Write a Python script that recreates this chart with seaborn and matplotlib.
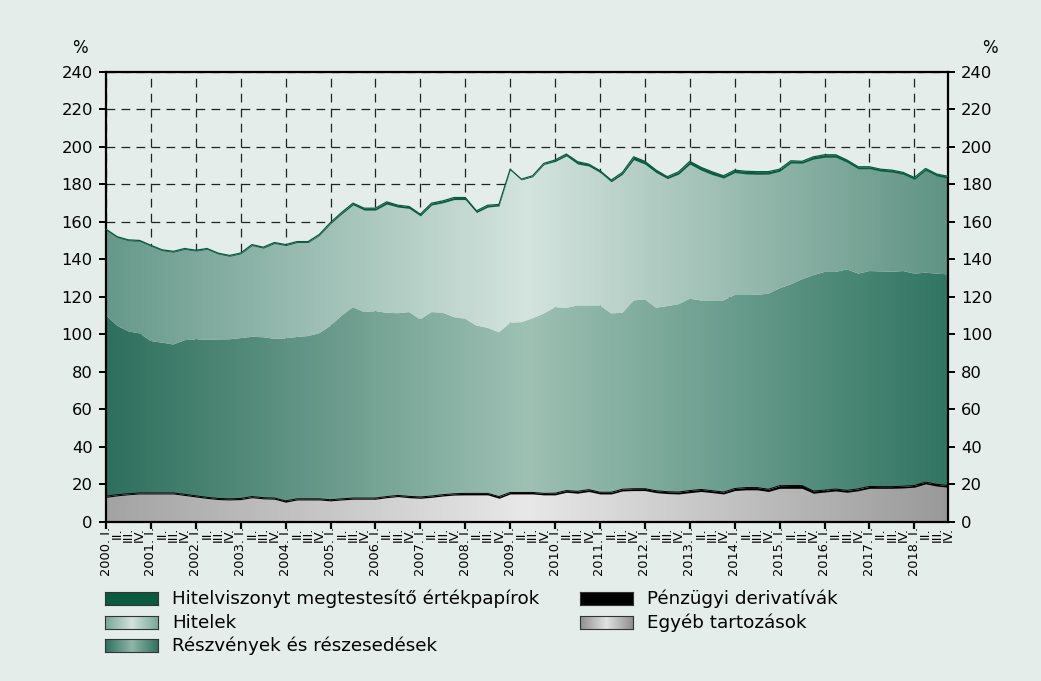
import numpy as np
import pandas as pd
import matplotlib
matplotlib.use("Agg")
import matplotlib.pyplot as plt
from matplotlib.colors import LinearSegmentedColormap
import seaborn as sns

# negyedéves adatok, 2000. I. - 2018. IV. (GDP-arányos %)
years = list(range(2000, 2019))
quarters = ["I.", "II.", "III.", "IV."]

egyeb = [13.0, 13.8, 14.4, 14.8, 14.8, 14.8, 14.8, 14.0, 13.2, 12.4,
         11.8, 11.6, 11.8, 12.8, 12.2, 12.0, 10.4, 11.6, 11.6, 11.6,
         11.1, 11.6, 12.0, 12.0, 12.0, 12.8, 13.4, 12.8, 12.5, 13.0,
         13.7, 14.2, 14.3, 14.3, 14.3, 12.5, 14.8, 14.8, 14.8, 14.3,
         14.3, 15.7, 15.2, 16.1, 14.8, 14.8, 16.4, 16.6, 16.6, 15.5,
         15.0, 14.8, 15.5, 16.1, 15.5, 14.8, 16.6, 17.0, 17.0, 16.1,
         17.8, 17.8, 17.8, 15.2, 15.8, 16.4, 15.7, 16.5, 17.8, 17.8,
         17.8, 18.0, 18.4, 20.2, 19.0, 18.4]
derivativak = [0.6, 0.6, 0.5, 0.5, 0.5, 0.5, 0.5, 0.6, 0.6, 0.6,
               0.6, 0.6, 0.6, 0.6, 0.6, 0.6, 0.7, 0.6, 0.6, 0.6,
               0.6, 0.6, 0.6, 0.6, 0.6, 0.6, 0.6, 0.7, 0.7, 0.7,
               0.7, 0.7, 0.8, 0.8, 0.8, 0.9, 0.8, 0.8, 0.8, 0.8,
               0.9, 0.9, 1.0, 1.0, 0.9, 0.9, 0.9, 1.0, 1.0, 1.0,
               1.0, 1.0, 1.1, 1.1, 1.0, 1.0, 1.1, 1.2, 1.2, 1.2,
               1.4, 1.5, 1.5, 1.2, 1.0, 1.0, 1.0, 1.0, 1.0, 0.9,
               0.9, 0.9, 0.9, 0.9, 0.9, 0.9]
reszvenyek = [96.4, 90.1, 86.6, 85.1, 81.0, 80.2, 79.2, 82.2, 83.5, 84.0,
              84.8, 85.1, 85.5, 85.2, 85.6, 84.9, 86.7, 86.3, 86.8, 88.3,
              92.8, 97.8, 101.8, 99.2, 99.7, 98.0, 97.2, 98.3, 94.7, 98.1,
              97.0, 94.2, 93.1, 89.5, 88.3, 87.6, 90.5, 90.8, 92.9, 95.9,
              99.2, 97.5, 99.1, 98.2, 99.6, 95.4, 94.1, 100.4, 101.0, 97.6,
              99.0, 100.2, 102.3, 100.8, 101.5, 102.2, 103.2, 102.7, 102.8, 104.3,
              105.3, 107.3, 110.0, 115.1, 116.4, 115.8, 117.9, 114.8, 114.9, 114.8,
              114.6, 114.8, 113.0, 111.7, 112.4, 112.6]
hitelek = [45.6, 47.1, 48.4, 49.2, 50.7, 49.1, 49.3, 48.5, 47.1, 48.3,
           45.6, 44.3, 45.0, 48.7, 47.5, 50.9, 49.5, 50.4, 49.9, 52.2,
           54.5, 54.2, 54.6, 54.4, 53.9, 58.0, 56.6, 55.3, 55.2, 57.1,
           58.7, 62.7, 63.6, 60.3, 64.4, 67.4, 81.6, 75.9, 75.5, 79.5,
           77.7, 81.0, 75.5, 74.4, 71.0, 70.2, 73.9, 75.1, 72.1, 72.1,
           68.0, 69.4, 71.8, 69.5, 67.1, 65.3, 65.3, 64.6, 64.3, 63.8,
           62.4, 64.7, 61.9, 61.9, 61.2, 61.2, 57.1, 55.9, 54.6, 53.5,
           53.2, 51.6, 50.3, 54.6, 52.1, 51.3]
ertekpapirok = [0.4, 0.4, 0.4, 0.4, 0.4, 0.4, 0.4, 0.4, 0.4, 0.4,
                0.4, 0.4, 0.4, 0.5, 0.5, 0.5, 0.5, 0.5, 0.5, 0.5,
                0.6, 0.8, 0.9, 1.0, 1.0, 1.2, 1.0, 1.0, 0.9, 1.0,
                1.0, 1.1, 1.1, 0.9, 1.0, 0.8, 0.3, 0.4, 0.5, 0.6,
                0.8, 1.0, 1.2, 1.0, 0.9, 0.9, 1.0, 1.5, 1.5, 1.3,
                1.0, 1.2, 1.5, 1.5, 1.5, 1.2, 1.3, 1.4, 1.4, 1.3,
                1.1, 1.2, 1.0, 1.2, 1.3, 1.3, 1.2, 1.1, 1.0, 1.0,
                1.0, 1.0, 1.0, 1.0, 1.0, 1.0]

labels = {
    "ertekpapirok": "Hitelviszonyt megtestesítő értékpapírok",
    "hitelek": "Hitelek",
    "reszvenyek": "Részvények és részesedések",
    "derivativak": "Pénzügyi derivatívák",
    "egyeb": "Egyéb tartozások",
}

bg = "#e4ede9"
c_grey = ["#a3a3a3", "#e8e8e8", "#999999"]
c_resz = ["#2e6f5d", "#9ec1b4", "#317562"]
c_hit = ["#66998a", "#d4e4de", "#5f9383"]
c_papir = "#0b5b40"

sns.set_style("ticks")
plt.rcParams['font.family'] = ['DejaVu Sans']
plt.rcParams['axes.facecolor'] = bg
plt.rcParams['figure.facecolor'] = bg
plt.rcParams['text.color'] = 'black'
plt.rcParams['xtick.color'] = 'black'
plt.rcParams['ytick.color'] = 'black'
plt.rcParams['xtick.labelcolor'] = 'black'
plt.rcParams['ytick.labelcolor'] = 'black'
plt.rcParams['axes.edgecolor'] = 'black'

df = pd.DataFrame({"egyeb": egyeb, "derivativak": derivativak,
                   "reszvenyek": reszvenyek, "hitelek": hitelek,
                   "ertekpapirok": ertekpapirok})
df["t"] = np.arange(len(df))
order = ["egyeb", "derivativak", "reszvenyek", "hitelek", "ertekpapirok"]
tops = df[order].cumsum(axis=1)
n = len(df)

fig = plt.figure(figsize=(10.41, 6.81), dpi=100)
ax = fig.add_axes([0.10183, 0.23392, 0.80884, 0.66079])


def gradient_area(lower, upper, colors, z):
    poly = ax.fill_between(df["t"], lower, upper, facecolor="none", lw=0, zorder=z)
    cmap = LinearSegmentedColormap.from_list("g", colors)
    grad = np.linspace(0, 1, 512).reshape(1, -1)
    img = ax.imshow(grad, extent=[0, n - 1, 0, 240], aspect="auto", cmap=cmap,
                    origin="lower", interpolation="bilinear", zorder=z)
    img.set_clip_path(poly.get_paths()[0], ax.transData)


zero = np.zeros(n)
gradient_area(zero, tops["egyeb"], c_grey, 2)
ax.fill_between(df["t"], tops["egyeb"], tops["derivativak"], color="black", lw=0, zorder=2)
gradient_area(tops["derivativak"], tops["reszvenyek"], c_resz, 2)
gradient_area(tops["reszvenyek"], tops["hitelek"], c_hit, 2)
ax.fill_between(df["t"], tops["hitelek"], tops["ertekpapirok"], color=c_papir, lw=0, zorder=2)

# vékony határvonalak
sns.lineplot(x=df["t"], y=tops["derivativak"], color="black", lw=0.7, ax=ax, zorder=3)
sns.lineplot(x=df["t"], y=tops["ertekpapirok"], color=c_papir, lw=0.9, ax=ax, zorder=3)

ax.set_xlim(0, n - 1)
ax.set_ylim(0, 240)
ax.set_xlabel("")
ax.set_ylabel("")

major = list(range(0, n, 4))
minor = [i for i in range(n) if i % 4]
ax.set_xticks(major, labels=[f"{y}. I." for y in years])
ax.set_xticks(minor, labels=[quarters[i % 4] for i in minor], minor=True)
ax.tick_params(axis="x", which="major", length=5, width=1.6, pad=-1.2,
               labelsize=9.3, labelrotation=90, direction="out")
ax.tick_params(axis="x", which="minor", length=0, pad=3.8,
               labelsize=9.3, labelrotation=90)

ax.set_yticks(range(0, 241, 20))
ax.tick_params(axis="y", which="major", left=True, right=True,
               labelleft=True, labelright=True, length=5, width=1.4,
               labelsize=11.8, pad=4.5, direction="out")

for s in ax.spines.values():
    s.set_visible(True)
    s.set_linewidth(1.6)
    s.set_color("black")

ax.set_axisbelow(True)
ax.grid(True, which="major", color="#222222", lw=0.9, ls=(0, (7, 5)))

fig.text(80 / 1041, 1 - 48 / 681, "%", ha="center", va="center", fontsize=12)
fig.text(990 / 1041, 1 - 48 / 681, "%", ha="center", va="center", fontsize=12)


# jelmagyarázat
def swatch(x_px, y_px, key, colors):
    sax = fig.add_axes([x_px / 1041, 1 - (y_px + 13) / 681, 53 / 1041, 13 / 681])
    cmap = LinearSegmentedColormap.from_list("s", colors)
    sax.imshow(np.linspace(0, 1, 256).reshape(1, -1), aspect="auto", cmap=cmap)
    sax.set_xticks([])
    sax.set_yticks([])
    for s in sax.spines.values():
        s.set_linewidth(0.8)
        s.set_color("#333333")
    fig.text((x_px + 67) / 1041, 1 - (y_px + 6.5) / 681, labels[key],
             ha="left", va="center", fontsize=13.2)


swatch(105, 592, "ertekpapirok", [c_papir, c_papir])
swatch(105, 616, "hitelek", ["#76a596", "#d2e3dc", "#76a596"])
swatch(105, 639, "reszvenyek", ["#2e6f5d", "#8fb6a9", "#2e6f5d"])
swatch(580, 592, "derivativak", ["black", "black"])
swatch(580, 616, "egyeb", ["#8f8f8f", "#e2e2e2", "#8f8f8f"])

fig.savefig("out.png", dpi=100, facecolor=bg)
